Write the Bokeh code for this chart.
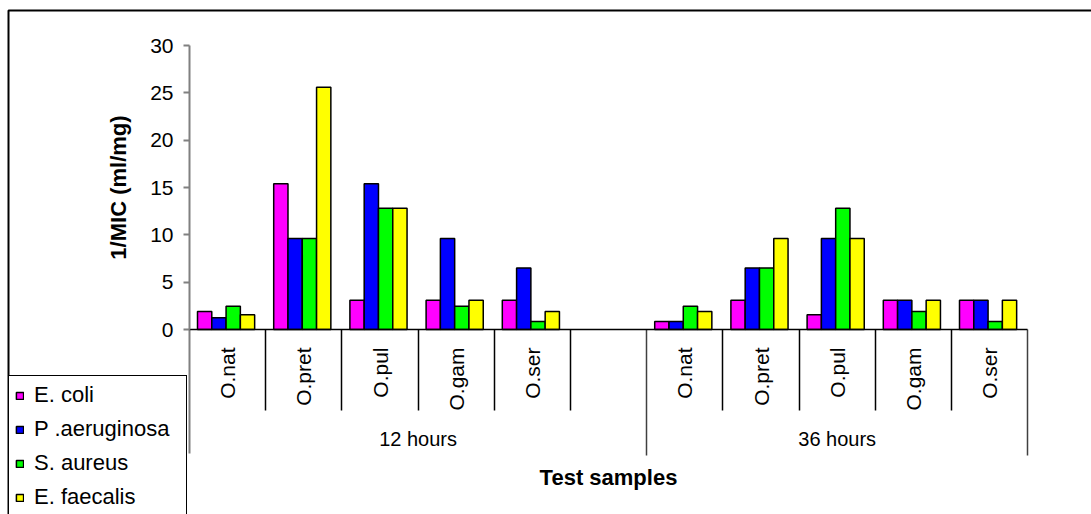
import math
from bokeh.plotting import figure
from bokeh.models import (Range1d, LinearAxis, FixedTicker, BoxAnnotation, ColumnDataSource)
from bokeh.transform import dodge
from bokeh.embed import file_html
from bokeh.resources import INLINE

# ---------------- data ----------------
groups = ["12 hours", "36 hours"]
samples = ["O.nat", "O.pret", "O.pul", "O.gam", "O.ser"]
series = ["E. coli", "P .aeruginosa", "S. aureus", "E. faecalis"]
colors = ["#FF00FF", "#0000FF", "#00FF00", "#FFFF00"]

e_coli = [1.9, 15.4, 3.1, 3.1, 3.1, 0.85, 3.1, 1.55, 3.1, 3.1]
p_aeruginosa = [1.25, 9.6, 15.4, 9.6, 6.5, 0.85, 6.5, 9.6, 3.1, 3.1]
s_aureus = [2.45, 9.6, 12.8, 2.45, 0.85, 2.45, 6.5, 12.8, 1.9, 0.85]
e_faecalis = [1.55, 25.6, 12.8, 3.1, 1.9, 1.9, 9.6, 9.6, 3.1, 3.1]

y_ticks = [0, 5, 10, 15, 20, 25, 30]

FONT = "Liberation Sans"

# ---------------- layout constants (pixels) ----------------
W, H = 1091, 514
X0_PX, SLOT_PX = 189, 76.2          # left end of category axis, width of one slot
Y0_PX, UNIT_PX = 329, 284 / 30      # pixel row of value 0, pixels per value unit

# ---------------- category slots ----------------
blank = " "
factors = [(groups[0], s) for s in samples] + [(groups[0], blank)] + [(groups[1], s) for s in samples]
data_x = [(groups[0], s) for s in samples] + [(groups[1], s) for s in samples]
n = len(factors)
centers = {f: factors.index(f) + 0.5 for f in data_x}

group_bounds, group_centers = [], {}
for g in groups:
    idx = [i for i, f in enumerate(factors) if f[0] == g]
    group_bounds += [min(idx), max(idx) + 1]
    group_centers[(min(idx) + max(idx) + 1) / 2] = g
group_bounds = sorted(set(group_bounds))
inner_bounds = [b for b in range(1, n) if b not in group_bounds]

src = ColumnDataSource(dict(xc=[centers[f] for f in data_x],
                            ec=e_coli, pa=p_aeruginosa, sa=s_aureus, ef=e_faecalis))
cols = ["ec", "pa", "sa", "ef"]

x_range = Range1d(-X0_PX / SLOT_PX, (W - X0_PX) / SLOT_PX)
y_range = Range1d(-(H - Y0_PX) / UNIT_PX, Y0_PX / UNIT_PX)

p = figure(width=W, height=H, x_range=x_range, y_range=y_range,
           x_axis_location=None, y_axis_location=None,
           toolbar_location=None, output_backend="svg", min_border=0,
           background_fill_color="white", border_fill_color="white")
p.outline_line_color = None
p.grid.visible = False

bw = 0.1875
for k, (name, col, c) in enumerate(zip(series, cols, colors)):
    off = (k - 1.5) * bw - 0.02
    p.vbar(x=dodge("xc", off), top=col, width=bw, source=src,
           fill_color=c, line_color="black", line_width=1.5, legend_label=name)

# ---------------- y axis ----------------
ya = LinearAxis(fixed_location=0, bounds=(0, 30), ticker=FixedTicker(ticks=y_ticks),
                axis_label="1/MIC (ml/mg)", axis_label_text_font=FONT,
                axis_label_text_font_style="bold", axis_label_text_font_size="22px",
                axis_label_text_color="black", axis_label_standoff=16,
                axis_line_color="#808080", axis_line_width=2,
                major_tick_line_color="#808080", major_tick_line_width=2,
                major_tick_out=6, major_tick_in=0, minor_tick_line_color=None,
                major_label_text_font=FONT, major_label_text_font_size="21px",
                major_label_text_color="black", major_label_standoff=10)
p.add_layout(ya, "left")

# ---------------- x axes ----------------
def tick_axis(ticks, length, color, width):
    return LinearAxis(fixed_location=0, ticker=FixedTicker(ticks=ticks),
                      major_label_overrides={t: "" for t in ticks},
                      major_tick_out=length, major_tick_in=0,
                      major_tick_line_color=color, major_tick_line_width=width,
                      minor_tick_line_color=None, axis_line_color=None)

# slot separators
p.add_layout(tick_axis(inner_bounds, 81, "black", 1.5), "below")
p.add_layout(tick_axis(group_bounds[1:], 126, "#404040", 1.5), "below")
p.add_layout(tick_axis(group_bounds[:1], 124, "#808080", 2), "below")

# sample labels + axis line
ax1 = LinearAxis(fixed_location=0, bounds=(0, n),
                 ticker=FixedTicker(ticks=list(centers.values())),
                 major_label_overrides={v: f[1] for f, v in centers.items()},
                 major_label_orientation=math.pi / 2,
                 major_tick_out=0, major_tick_in=0, minor_tick_line_color=None,
                 axis_line_color="black", axis_line_width=1.5,
                 major_label_standoff=18,
                 major_label_text_font=FONT, major_label_text_font_size="21px",
                 major_label_text_color="black")
p.add_layout(ax1, "below")

# group labels + axis title
ax2 = LinearAxis(fixed_location=0, bounds=(0, n),
                 ticker=FixedTicker(ticks=list(group_centers.keys())),
                 major_label_overrides=group_centers,
                 major_tick_out=0, major_tick_in=0, minor_tick_line_color=None,
                 axis_line_color=None,
                 major_label_standoff=98,
                 major_label_text_font=FONT, major_label_text_font_size="20px",
                 major_label_text_color="black",
                 axis_label="Test samples", axis_label_text_font=FONT,
                 axis_label_text_font_style="bold", axis_label_text_font_size="22px",
                 axis_label_text_color="black", axis_label_standoff=12)
p.add_layout(ax2, "below")

# ---------------- legend ----------------
leg = p.legend[0]
leg.location = (8, -3)
leg.border_line_color = "black"
leg.border_line_alpha = 1
leg.border_line_width = 1.5
leg.background_fill_color = "white"
leg.background_fill_alpha = 1
leg.label_text_font = FONT
leg.label_text_font_size = "22px"
leg.label_text_color = "black"
leg.glyph_width = 9
leg.glyph_height = 9
leg.label_height = 26
leg.label_width = 146
leg.spacing = 8
leg.padding = 6
leg.margin = 0
leg.label_standoff = 10

# ---------------- chart border ----------------
p.add_layout(BoxAnnotation(left=8, right=3000, top=10, bottom=3000,
                           left_units="canvas", right_units="canvas",
                           top_units="canvas", bottom_units="canvas",
                           fill_color=None, fill_alpha=0,
                           line_color="black", line_alpha=1, line_width=2))

open("out.html", "w").write(file_html(p, INLINE))
